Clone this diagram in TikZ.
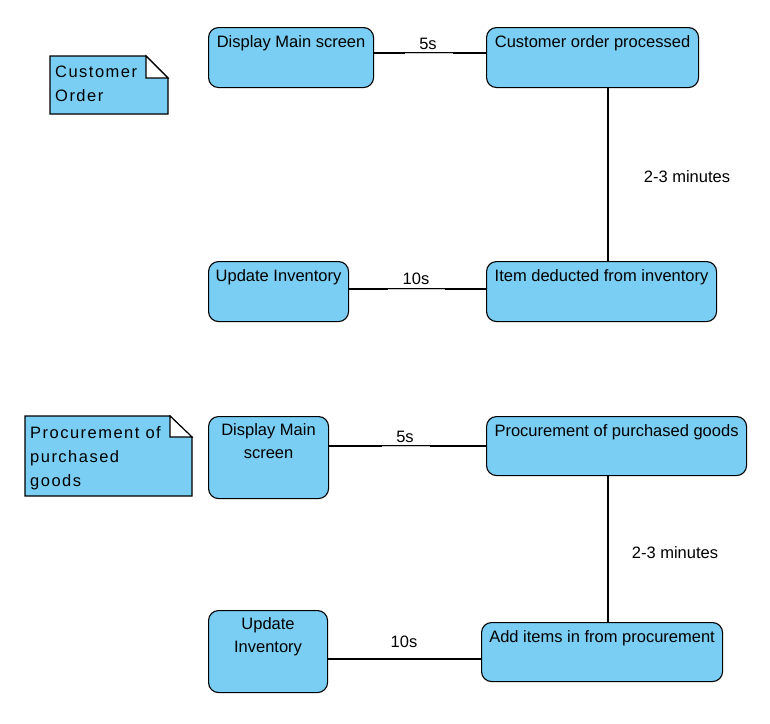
\documentclass[tikz,border=0pt]{standalone}
\usepackage{fontspec}
\setmainfont{Liberation Sans}
\usetikzlibrary{calc}
\definecolor{boxblue}{RGB}{122,206,244}
\definecolor{seggray}{RGB}{200,200,200}

\begin{document}
\begin{tikzpicture}[x=1pt,y=-1pt,
  stepbox/.style={draw=black, line width=1.1pt, fill=boxblue, rounded corners=10pt,
                  inner sep=0pt, anchor=north west},
  boxtext/.style={anchor=north, inner sep=0pt, align=center,
                  font=\fontsize{16.5}{23}\selectfont},
  lbl/.style={anchor=base, inner sep=0pt, font=\fontsize{16.5}{19}\selectfont},
  link/.style={draw=black, line width=1.1pt},
  faint/.style={draw=seggray, line width=1pt},
  notefill/.style={draw=black, line width=1.1pt, fill=boxblue},
  notetext/.style={anchor=north west, inner sep=0pt, align=left,
                   font=\fontsize{16.5}{24}\selectfont\addfontfeatures{LetterSpace=9}},
]
\useasboundingbox (0,0) rectangle (770,723);

% ---------- Customer order flow ----------
\draw[notefill] (50,56) -- (146,56) -- (168,78) -- (168,114) -- (50,114) -- cycle;
\draw[line width=1.1pt, fill=white] (146,56) -- (146,78) -- (168,78) -- cycle;
\node[notetext] (noteA) at (55,66) {Customer\\Order};

\node[stepbox, minimum width=165pt, minimum height=60pt] (dispA) at (208,27) {};
\node[boxtext] (dispAt) at ($(dispA.north)+(0,8)$) {Display Main screen};

\node[stepbox, minimum width=212pt, minimum height=60pt] (custA) at (486,27) {};
\node[boxtext] (custAt) at ($(custA.north)+(0,8)$) {Customer order processed};

\node[stepbox, minimum width=140pt, minimum height=60pt] (updA) at (208,261) {};
\node[boxtext] (updAt) at ($(updA.north)+(0,8)$) {Update Inventory};

\node[stepbox, minimum width=230pt, minimum height=60pt] (itemA) at (486,261) {};
\node[boxtext] (itemAt) at ($(itemA.north)+(0,8)$) {Item deducted from inventory};

\draw[link] (dispA.east |- 0,53) -- (custA.west |- 0,53);
\draw[faint] (405,53) -- (453,53);
\node[lbl] (t5a) at (428,49) {5s};

\draw[link] (custA.south -| 608,0) -- (itemA.north -| 608,0);
\node[lbl] (t23a) at (687,182) {2-3 minutes};

\draw[link] (updA.east |- 0,289) -- (itemA.west |- 0,289);
\draw[faint] (388,289) -- (445,289);
\node[lbl] (t10a) at (416,284) {10s};

% ---------- Procurement flow ----------
\draw[notefill] (25,416) -- (170,416) -- (192,437) -- (192,496) -- (25,496) -- cycle;
\draw[line width=1.1pt, fill=white] (170,416) -- (170,437) -- (192,437) -- cycle;
\node[notetext] (noteB) at (30,426) {Procurement of\\purchased\\goods};

\node[stepbox, minimum width=120pt, minimum height=82pt] (dispB) at (208,416) {};
\node[boxtext] (dispBt) at ($(dispB.north)+(0,7.5)$) {Display Main\\screen};

\node[stepbox, minimum width=260pt, minimum height=59pt] (procB) at (486,416) {};
\node[boxtext] (procBt) at ($(procB.north)+(0,8)$) {Procurement of purchased goods};

\node[stepbox, minimum width=119pt, minimum height=82pt] (updB) at (208,610) {};
\node[boxtext] (updBt) at ($(updB.north)+(0,7.5)$) {Update\\Inventory};

\node[stepbox, minimum width=241pt, minimum height=59pt] (addB) at (481,622) {};
\node[boxtext] (addBt) at ($(addB.north)+(0,8)$) {Add items in from procurement};

\draw[link] (dispB.east |- 0,446) -- (procB.west |- 0,446);
\draw[faint] (382,446) -- (430,446);
\node[lbl] (t5b) at (405,442) {5s};

\draw[link] (procB.south -| 608,0) -- (addB.north -| 608,0);
\node[lbl] (t23b) at (675,558) {2-3 minutes};

\draw[link] (updB.east |- 0,659) -- (addB.west |- 0,659);
\node[lbl] (t10b) at (404,647) {10s};

\end{tikzpicture}
\end{document}
